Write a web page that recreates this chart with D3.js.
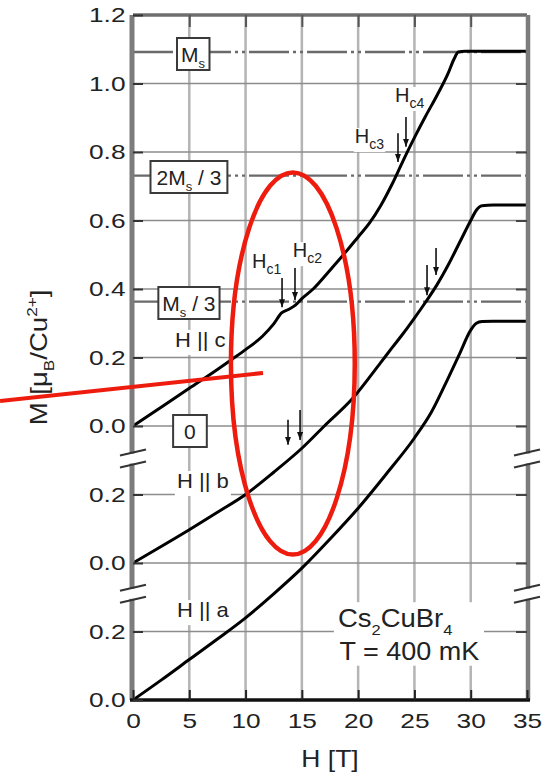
<!DOCTYPE html>
<html>
<head>
<meta charset="utf-8">
<script src="https://cdn.jsdelivr.net/npm/d3@7/dist/d3.min.js"></script>
<style>
  html, body { margin: 0; padding: 0; background: #fff; }
  svg { display: block; }
  text { font-family: "Liberation Sans", Arial, Helvetica, sans-serif; fill: #222; }
</style>
</head>
<body>
<svg id="chart" width="551" height="775"></svg>
<script>
// Magnetization of Cs2CuBr4 at T = 400 mK for fields along c, b and a.
// Field H in tesla, magnetization M in mu_B per Cu2+.

const fieldTicks = [0, 5, 10, 15, 20, 25, 30, 35];
const magTicks = [1.2, 1.0, 0.8, 0.6, 0.4, 0.2, 0.0, -0.2, -0.4, -0.6, -0.8];
const magTickLabels = ["1.2", "1.0", "0.8", "0.6", "0.4", "0.2", "0.0", "0.2", "0.0", "0.2", "0.0"];

// H || c
const fieldC = [0, 2.5, 5, 7.5, 8.8, 10, 11.5, 12.5, 13.2, 13.8, 14.4, 15, 16, 17.5, 19, 20, 21, 22, 23, 24, 25, 26, 27, 28, 28.5, 28.9, 29.5, 30, 32, 35];
const magC   = [0, 0.055, 0.11, 0.165, 0.195, 0.223, 0.262, 0.298, 0.330, 0.340, 0.352, 0.372, 0.40, 0.455, 0.512, 0.552, 0.592, 0.643, 0.705, 0.775, 0.842, 0.905, 0.965, 1.03, 1.07, 1.092, 1.094, 1.094, 1.094, 1.094];

// H || b
const fieldB = [0, 2.5, 5, 7.5, 10, 12.5, 15, 17, 19.5, 22, 23, 24, 25, 26, 27, 28, 29, 30, 30.5, 31, 32, 35];
const magB   = [0, 0.048, 0.097, 0.148, 0.2, 0.265, 0.335, 0.40, 0.48, 0.585, 0.628, 0.67, 0.715, 0.762, 0.812, 0.87, 0.935, 1.0, 1.03, 1.043, 1.045, 1.045];

// H || a
const fieldA = [0, 2.5, 5, 7.5, 10, 12.5, 15, 17.5, 20, 22.5, 25, 26.5, 28, 29, 30, 30.5, 31, 32, 35];
const magA   = [0, 0.058, 0.118, 0.178, 0.240, 0.31, 0.385, 0.47, 0.56, 0.66, 0.765, 0.84, 0.94, 1.01, 1.08, 1.1, 1.105, 1.106, 1.106];

const seriesNames = ["H || c", "H || b", "H || a"];
// each direction is drawn in its own stacked panel, shifted down by this much
const panelOffsets = [0, -0.4, -0.8];
const panelBreaks = [-0.095, -0.49];

// saturation moment and its fractions
const plateauValues = [1.092, 0.731, 0.363];

// critical fields marked with arrows (field, arrow top, arrow tip), in panel units
const critC = [[13.24, 0.432, 0.347], [14.39, 0.461, 0.368], [23.54, 0.855, 0.771], [24.25, 0.902, 0.815]];
const critB = [[26.12, 0.470, 0.382], [26.92, 0.520, 0.441], [13.77, 0.018, -0.055], [14.84, 0.047, -0.041]];

const svg = d3.select("#chart");
const x = d3.scaleLinear().domain([0, 35]).range([133, 527]);
const y = d3.scaleLinear().domain([-0.8, 1.2]).range([700, 15]);

// ---------- helpers ----------
function richText(parent, px, py, parts, o) {
  const size = o.size || 21;
  const g = parent.append("g")
    .attr("transform", `translate(${px},${py})${o.rotate ? ` rotate(${o.rotate})` : ""} scale(${o.sx || 1},1)`);
  const t = g.append("text").attr("font-size", size).attr("text-anchor", o.anchor || "start");
  let shift = 0;
  parts.forEach(p => {
    const want = p.sub ? size * 0.3 : p.sup ? -size * 0.42 : 0;
    const s = t.append("tspan").text(p.t).attr("dy", want - shift);
    if (p.sub || p.sup) s.attr("font-size", size * (o.subScale || 0.66));
    shift = want;
  });
  return { g, t };
}
function backdrop(lbl, padX, top, bottom, boxed) {
  const b = lbl.t.node().getBBox();
  lbl.g.insert("rect", "text")
    .attr("x", b.x - padX).attr("width", b.width + 2 * padX)
    .attr("y", top).attr("height", bottom - top)
    .attr("fill", "#fff")
    .attr("stroke", boxed ? "#3a3a3a" : "none")
    .attr("stroke-width", boxed ? 2 : 0)
    .attr("vector-effect", "non-scaling-stroke");
}

// ---------- grid ----------
const grid = svg.append("g");
grid.selectAll("line.v").data(fieldTicks.slice(1, -1)).join("line")
  .attr("x1", d => x(d)).attr("x2", d => x(d))
  .attr("y1", y(1.2)).attr("y2", y(-0.8))
  .attr("stroke", "#b4b4b4").attr("stroke-width", 2.5);
grid.selectAll("line.h").data(magTicks.slice(1, -1)).join("line")
  .attr("x1", x(0)).attr("x2", x(35))
  .attr("y1", d => y(d)).attr("y2", d => y(d))
  .attr("stroke", "#8c8c8c").attr("stroke-width", 1.6);

// ---------- plateau reference lines ----------
svg.append("g").selectAll("line").data(plateauValues).join("line")
  .attr("x1", x(0)).attr("x2", x(35))
  .attr("y1", d => y(d)).attr("y2", d => y(d))
  .attr("stroke", "#6a6a6a").attr("stroke-width", 2.4)
  .attr("stroke-dasharray", "40,4,3,4,3,4");

// ---------- labels with white backgrounds ----------
const labels = svg.append("g");

// boxed plateau tags
const boxTags = [
  { h: 5.33, v: 1.063, pad: 4, parts: [{ t: "M" }, { t: "s", sub: true }] },
  { h: 4.97, v: 0.704, pad: 6, parts: [{ t: "2M" }, { t: "s", sub: true }, { t: " / 3" }] },
  { h: 4.97, v: 0.336, pad: 4, parts: [{ t: "M" }, { t: "s", sub: true }, { t: " / 3" }] },
  { h: 5.06, v: -0.038, pad: 11, parts: [{ t: "0" }] }
];
boxTags.forEach(b => {
  const l = richText(labels, x(b.h), y(b.v), b.parts, { size: 21, anchor: "middle", subScale: 0.62 });
  backdrop(l, b.pad, -24, 8, true);
});

// direction tags
const dirPos = [[3.73, 0.231], [3.9, -0.181], [3.9, -0.558]];
seriesNames.forEach((name, i) => {
  const l = richText(labels, x(dirPos[i][0]), y(dirPos[i][1]), [{ t: name }], { size: 21, sx: 1.05 });
  backdrop(l, 2, -17, 8, false);
});

// critical field names
const critNames = [
  { h: 10.57, v: 0.461, s: "c1" },
  { h: 14.2, v: 0.493, s: "c2" },
  { h: 19.7, v: 0.826, s: "c3" },
  { h: 23.27, v: 0.946, s: "c4" }
];
critNames.forEach(c => {
  const l = richText(labels, x(c.h), y(c.v), [{ t: "H" }, { t: c.s, sub: true }], { size: 20, subScale: 0.7 });
  backdrop(l, 1, -15, 9, false);
});

// sample and temperature
const sample = labels.append("g");
richText(sample, x(18.2), y(-0.587), [{ t: "Cs" }, { t: "2", sub: true }, { t: "CuBr" }, { t: "4", sub: true }], { size: 25, sx: 1.1, subScale: 0.6 });
richText(sample, x(18.35), y(-0.683), [{ t: "T = 400 mK" }], { size: 25, sx: 1.08 });
const sb = sample.node().getBBox();
sample.insert("rect", ":first-child")
  .attr("x", sb.x - 4).attr("y", sb.y - 2)
  .attr("width", sb.width + 8).attr("height", sb.height + 2)
  .attr("fill", "#fff");

// ---------- curves ----------
const curveData = [
  d3.zip(fieldC, magC),
  d3.zip(fieldB, magB),
  d3.zip(fieldA, magA)
];
const line = d3.line().curve(d3.curveMonotoneX);
svg.append("g").selectAll("path").data(curveData).join("path")
  .attr("d", (d, i) => line(d.map(([h, m]) => [x(h), y(m + panelOffsets[i])])))
  .attr("fill", "none").attr("stroke", "#000").attr("stroke-width", 3)
  .attr("stroke-linejoin", "round");

// ---------- critical field arrows ----------
svg.append("defs").append("marker")
  .attr("id", "head").attr("viewBox", "0 0 10 10")
  .attr("refX", 10).attr("refY", 5)
  .attr("markerUnits", "userSpaceOnUse")
  .attr("markerWidth", 8).attr("markerHeight", 6)
  .attr("orient", "auto").attr("preserveAspectRatio", "none")
  .append("path").attr("d", "M0,0 L10,5 L0,10 z").attr("fill", "#111");
svg.append("g").selectAll("line").data(critC.concat(critB)).join("line")
  .attr("x1", d => x(d[0])).attr("x2", d => x(d[0]))
  .attr("y1", d => y(d[1])).attr("y2", d => y(d[2]))
  .attr("stroke", "#111").attr("stroke-width", 1.6)
  .attr("marker-end", "url(#head)");

// ---------- frame ----------
const frame = svg.append("g");
frame.append("line").attr("x1", x(0)).attr("x2", x(35)).attr("y1", y(1.2)).attr("y2", y(1.2))
  .attr("stroke", "#6e6e6e").attr("stroke-width", 3.5);
frame.append("line").attr("x1", x(0) - 1).attr("x2", x(0) - 1).attr("y1", y(1.2)).attr("y2", y(-0.8))
  .attr("stroke", "#7c7c7c").attr("stroke-width", 5);
frame.append("line").attr("x1", x(35) + 1).attr("x2", x(35) + 1).attr("y1", y(1.2)).attr("y2", y(-0.8))
  .attr("stroke", "#7c7c7c").attr("stroke-width", 4.5);
frame.append("line").attr("x1", x(0) - 3).attr("x2", x(35) + 3).attr("y1", y(-0.8)).attr("y2", y(-0.8))
  .attr("stroke", "#111").attr("stroke-width", 3.5);

// ---------- axes ----------
const axL = svg.append("g").attr("transform", `translate(${x(0)},0)`)
  .call(d3.axisLeft(y).tickValues(magTicks).tickFormat((d, i) => magTickLabels[i])
    .tickSize(-10).tickSizeOuter(0).tickPadding(6));
axL.select(".domain").remove();
axL.selectAll("line").attr("stroke", "#333").attr("stroke-width", 2);
axL.selectAll("text").attr("font-size", 21).attr("fill", "#2a2a2a").attr("transform", "scale(1.25,1)");

const axR = svg.append("g").attr("transform", `translate(${x(35)},0)`)
  .call(d3.axisRight(y).tickValues(magTicks.slice(1, -1)).tickFormat("").tickSize(-11).tickSizeOuter(0));
axR.select(".domain").remove();
axR.selectAll("line").attr("stroke", "#444").attr("stroke-width", 2);

const axB = svg.append("g").attr("transform", `translate(0,${y(-0.8)})`)
  .call(d3.axisBottom(x).tickValues(fieldTicks).tickSize(-10).tickSizeOuter(0).tickPadding(13));
axB.select(".domain").remove();
axB.selectAll("line").attr("stroke", "#222").attr("stroke-width", 2);
axB.selectAll("text").attr("font-size", 21).attr("fill", "#2a2a2a").attr("transform", "scale(1.25,1)");

const axT = svg.append("g").attr("transform", `translate(0,${y(1.2)})`)
  .call(d3.axisTop(x).tickValues(fieldTicks.slice(1, -1)).tickFormat("").tickSize(-12).tickSizeOuter(0));
axT.select(".domain").remove();
axT.selectAll("line").attr("stroke", "#555").attr("stroke-width", 2);

// ---------- axis breaks between panels ----------
const breaks = svg.append("g");
panelBreaks.forEach(v => {
  [x(0), x(35)].forEach(xc => {
    const yb = y(v);
    breaks.append("rect").attr("x", xc - 6).attr("y", yb - 5).attr("width", 12).attr("height", 10).attr("fill", "#fff");
    [-6, 6].forEach(o => {
      breaks.append("line")
        .attr("x1", xc - 13).attr("y1", yb + o + 3)
        .attr("x2", xc + 13).attr("y2", yb + o - 3)
        .attr("stroke", "#333").attr("stroke-width", 2);
    });
  });
});

// ---------- axis titles ----------
richText(svg, (x(0) + x(35)) / 2, 767, [{ t: "H [T]" }], { size: 23, sx: 1.15, anchor: "middle" });
richText(svg, 47, 357.5,
  [{ t: "M [μ" }, { t: "B", sub: true }, { t: "/Cu" }, { t: "2+", sup: true }, { t: "]" }],
  { size: 23, sx: 1.2, anchor: "middle", rotate: -90, subScale: 0.62 });

// ---------- red highlight marks ----------
const red = svg.append("g").attr("fill", "none").attr("stroke", "#ee1c0e");
red.append("ellipse")
  .attr("cx", x(14.2)).attr("cy", y(0.1825))
  .attr("rx", x(14.2 + 5.5) - x(14.2)).attr("ry", y(0.1825 - 0.558) - y(0.1825))
  .attr("stroke-width", 4.5);
red.append("line")
  .attr("x1", x(-11.81)).attr("y1", y(0.073))
  .attr("x2", x(11.55)).attr("y2", y(0.155))
  .attr("stroke-width", 4);
</script>
</body>
</html>
